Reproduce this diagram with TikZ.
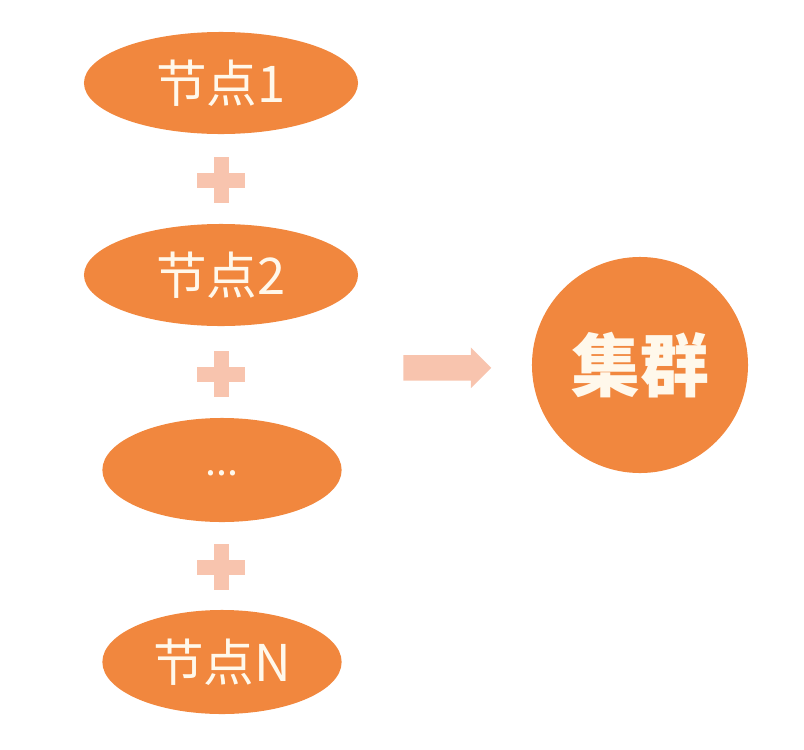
\documentclass[tikz,border=0pt]{standalone}
\usepackage{fontspec}
\setmainfont{Noto Sans CJK SC}
\usetikzlibrary{positioning,calc,shapes.geometric,shapes.arrows}

\definecolor{nodeorange}{RGB}{241,135,62}
\definecolor{paleorange}{RGB}{248,196,174}
\definecolor{textcream}{RGB}{255,248,235}

\tikzset{
	bignode/.style={ellipse,fill=nodeorange,inner sep=0pt,text=textcream,
		minimum width=6.85cm,minimum height=2.55cm,font=\fontsize{36}{40}\selectfont},
	smallnode/.style={bignode,minimum width=5.98cm,minimum height=2.6cm},
	plussign/.style={fill=paleorange}
}

\newcommand{\plusat}[1]{%
	\fill[plussign] ($(#1)+(-24,-7.5)$) rectangle ($(#1)+(24,7.5)$);
	\fill[plussign] ($(#1)+(-7.5,-23)$) rectangle ($(#1)+(7.5,23)$);
}

\begin{document}
\begin{tikzpicture}[x=0.025cm,y=-0.025cm]
		\useasboundingbox (0,0) rectangle (804,750);
		% left column of nodes
		\node[bignode] (n1) at (221,83) {节点1};
		\node[bignode] (n2) at (221,275) {节点2};
		\node[smallnode,font=\fontsize{28}{32}\selectfont] (n3) at (222,470) {\raisebox{-8pt}{...}};
		\node[smallnode] (nN) at (222,662) {节点N};
		% plus signs in between
		\coordinate (p1) at (221,180);
		\coordinate (p2) at (221,374);
		\coordinate (p3) at (221,567);
		\plusat{p1}
		\plusat{p2}
		\plusat{p3}
		% result
		\node[circle,fill=nodeorange,inner sep=0pt,minimum size=5.4cm,text=textcream,
			font=\fontsize{49}{54}\selectfont\bfseries] (cluster) at (640,365) {集群};
		\node[single arrow,fill=paleorange,inner xsep=0pt,inner ysep=0.3125cm,minimum height=2.2cm,
			single arrow head extend=0.19cm,left=1.0cm of cluster,yshift=-0.07cm] (arr) {};
\end{tikzpicture}
\end{document}
